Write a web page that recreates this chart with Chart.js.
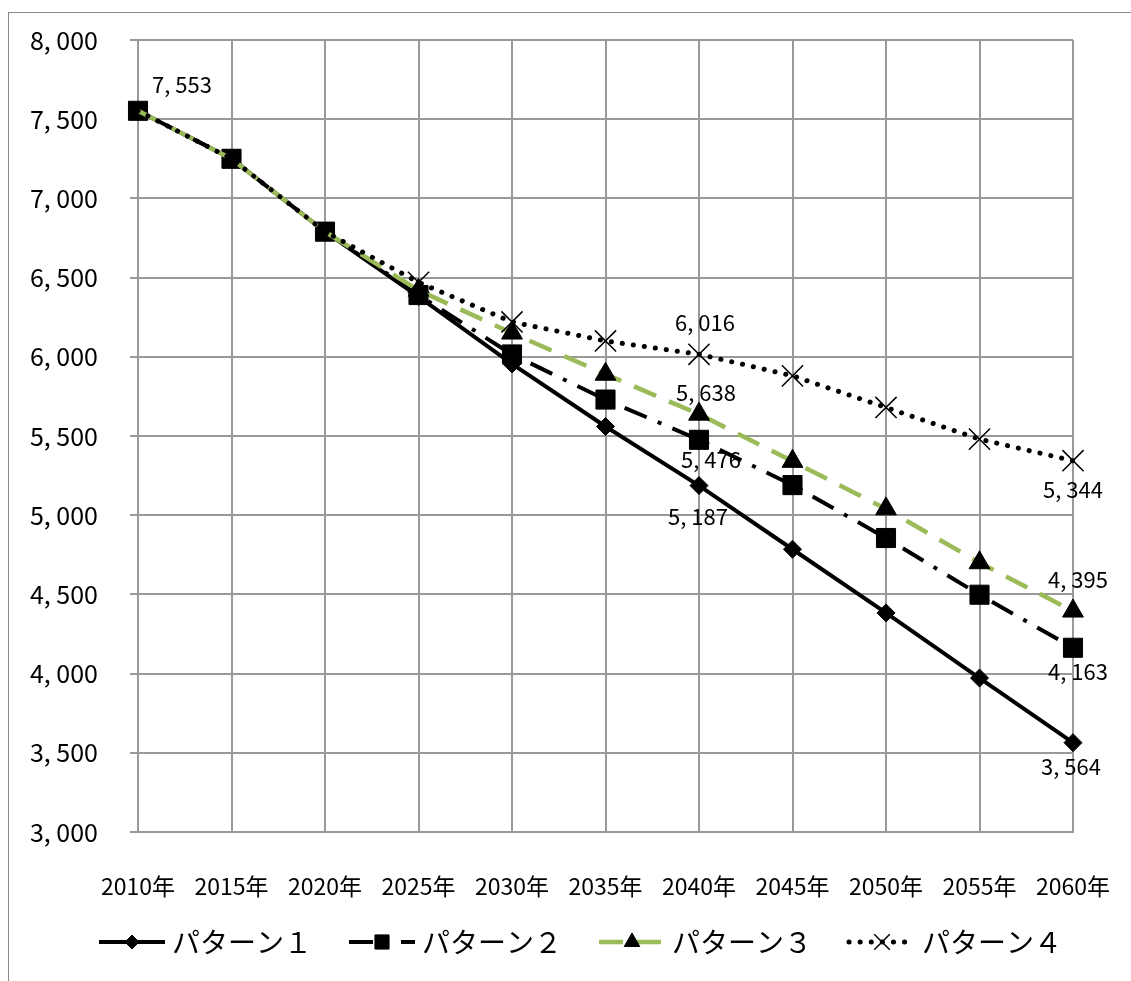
<!DOCTYPE html>
<html>
<head>
<meta charset="utf-8">
<script src="https://cdn.jsdelivr.net/npm/chart.js@4.4.1/dist/chart.umd.min.js"></script>
<style>
body { margin: 0; background: #fff; }
#wrap { width: 1131px; height: 981px; }
</style>
</head>
<body>
<div id="wrap"><canvas id="chart"></canvas></div>
<script>
// chart data
var years = ['2010年', '2015年', '2020年', '2025年', '2030年', '2035年', '2040年', '2045年', '2050年', '2055年', '2060年'];
var pattern1 = [7553, 7250, 6790, 6380, 5955, 5560, 5187, 4785, 4383, 3972, 3564];
var pattern2 = [7553, 7250, 6790, 6390, 6015, 5730, 5476, 5190, 4856, 4498, 4163];
var pattern3 = [7553, 7250, 6790, 6420, 6150, 5890, 5638, 5340, 5040, 4700, 4395];
var pattern4 = [7553, 7250, 6790, 6470, 6220, 6100, 6016, 5880, 5680, 5480, 5344];
var seriesNames = ['パターン１', 'パターン２', 'パターン３', 'パターン４'];
var yMin = 3000, yMax = 8000, yStep = 500;

var FONT = '"Noto Sans CJK JP", "Noto Sans", sans-serif';
var GREEN = '#9bbb59';
var GRID = '#999999';

function fmt(v) {
    return Number(v).toLocaleString('en-US').replace(',', ', ');
}

// which values get a text label, and where it sits relative to the point
var labelSpots = [
    { s: 0, i: 0, dx: 14, dy: -26, align: 'left' },
    { s: 3, i: 6, dx: 6, dy: -32 },
    { s: 2, i: 6, dx: 7, dy: -22 },
    { s: 1, i: 6, dx: 12, dy: 20 },
    { s: 0, i: 6, dx: -1, dy: 31 },
    { s: 3, i: 10, dx: 0, dy: 29 },
    { s: 2, i: 10, dx: 5, dy: -31 },
    { s: 1, i: 10, dx: 5, dy: 24 },
    { s: 0, i: 10, dx: -2, dy: 24 }
];

// markers hidden on the shared first points for series 3 and 4
function radii(r, hideFirst) {
    return years.map(function (y, i) { return i < hideFirst ? 0 : r; });
}

var datasets = [
    {
        label: seriesNames[0], data: pattern1, order: 4,
        borderColor: '#000', borderWidth: 4,
        pointStyle: 'rectRot', pointRadius: 9, legendRadius: 7,
        pointBackgroundColor: '#000', pointBorderColor: '#000', pointBorderWidth: 1
    },
    {
        label: seriesNames[1], data: pattern2, order: 3,
        borderColor: '#000', borderWidth: 4, borderDash: [24, 12, 4, 12],
        pointStyle: 'rect', pointRadius: 13.5, legendRadius: 10,
        pointBackgroundColor: '#000', pointBorderColor: '#000', pointBorderWidth: 1
    },
    {
        label: seriesNames[2], data: pattern3, order: 2,
        borderColor: GREEN, borderWidth: 4.5, borderDash: [24, 14],
        pointStyle: 'triangle', pointRadius: radii(12, 3), legendRadius: 9,
        pointBackgroundColor: '#000', pointBorderColor: '#000', pointBorderWidth: 1
    },
    {
        label: seriesNames[3], data: pattern4, order: 1,
        borderColor: '#000', borderWidth: 5, borderDash: [0.1, 11], borderCapStyle: 'round',
        pointStyle: 'crossRot', pointRadius: radii(15, 3), legendRadius: 11,
        pointBackgroundColor: '#000', pointBorderColor: '#000', pointBorderWidth: 1.5
    }
];

// small line+marker picture for the legend
function legendSample(ds) {
    var c = document.createElement('canvas');
    c.width = 72; c.height = 28;
    var g = c.getContext('2d');
    g.strokeStyle = ds.borderColor;
    g.lineWidth = ds.borderWidth;
    g.lineCap = ds.borderCapStyle || 'butt';
    g.setLineDash(ds.borderDash || []);
    g.beginPath(); g.moveTo(3, 14); g.lineTo(69, 14); g.stroke();
    g.setLineDash([]);
    g.lineCap = 'butt';
    g.fillStyle = '#000'; g.strokeStyle = '#000';
    g.lineWidth = ds.pointBorderWidth;
    Chart.helpers.drawPoint(g, { pointStyle: ds.pointStyle, radius: ds.legendRadius, borderWidth: ds.pointBorderWidth, rotation: 0 }, 36, 14);
    return c;
}

var framePlugin = {
    id: 'frame',
    beforeDraw: function (chart) {
        var ctx = chart.ctx;
        ctx.save();
        ctx.fillStyle = '#fff';
        ctx.fillRect(0, 0, chart.width, chart.height);
        ctx.strokeStyle = '#8a8a8a';
        ctx.lineWidth = 1;
        ctx.strokeRect(8.5, 12.5, chart.width + 20, chart.height + 20);
        ctx.restore();
    }
};

var valueLabels = {
    id: 'valueLabels',
    afterDatasetsDraw: function (chart) {
        var ctx = chart.ctx;
        ctx.save();
        ctx.font = '22px ' + FONT;
        ctx.fillStyle = '#000';
        ctx.textBaseline = 'middle';
        labelSpots.forEach(function (sp) {
            var pt = chart.getDatasetMeta(sp.s).data[sp.i];
            var v = chart.data.datasets[sp.s].data[sp.i];
            ctx.textAlign = sp.align || 'center';
            ctx.fillText(fmt(v), pt.x + sp.dx, pt.y + sp.dy);
        });
        ctx.restore();
    }
};

var bottomLegend = {
    id: 'bottomLegend',
    afterDraw: function (chart) {
        var ctx = chart.ctx;
        var sets = chart.data.datasets;
        ctx.save();
        ctx.font = '28px ' + FONT;
        ctx.fillStyle = '#000';
        ctx.textBaseline = 'middle';
        ctx.textAlign = 'left';
        var gap = 34, sampleW = 72, textGap = 4;
        var widths = sets.map(function (ds) { return sampleW + textGap + ctx.measureText(ds.label).width; });
        var total = widths.reduce(function (a, b) { return a + b; }, 0) + gap * (sets.length - 1);
        var x = 579 - total / 2, y = 942;
        sets.forEach(function (ds, i) {
            var img = legendSample(ds);
            ctx.drawImage(img, x, y - img.height / 2);
            ctx.fillText(ds.label, x + sampleW + textGap, y);
            x += widths[i] + gap;
        });
        ctx.restore();
    }
};

document.addEventListener('DOMContentLoaded', function () {
    var ctx = document.getElementById('chart').getContext('2d');
    new Chart(ctx, {
        type: 'line',
        data: { labels: years, datasets: datasets },
        options: {
            responsive: true,
            maintainAspectRatio: false,
            animation: false,
            events: [],
            layout: { padding: { left: 8, top: 40, right: 58, bottom: 64 } },
            elements: { line: { tension: 0, fill: false } },
            scales: {
                x: {
                    offset: false,
                    grid: { color: GRID, lineWidth: 2, drawTicks: false },
                    border: { color: GRID, width: 2 },
                    ticks: { color: '#000', font: { size: 23, family: FONT }, padding: 40, maxRotation: 0, autoSkip: false },
                    afterFit: function (s) { s.height = 85; s.paddingLeft = 0; s.paddingRight = 0; }
                },
                y: {
                    min: yMin, max: yMax,
                    grid: { color: GRID, lineWidth: 2, tickLength: 8 },
                    border: { color: GRID, width: 2 },
                    ticks: { stepSize: yStep, color: '#000', font: { size: 25, family: FONT }, padding: 32, callback: function (v) { return fmt(v); } },
                    afterFit: function (s) { s.width = 130; s.paddingTop = 0; s.paddingBottom = 0; }
                }
            },
            plugins: {
                legend: { display: false },
                tooltip: { enabled: false }
            }
        },
        plugins: [framePlugin, valueLabels, bottomLegend]
    });
});
</script>
</body>
</html>
